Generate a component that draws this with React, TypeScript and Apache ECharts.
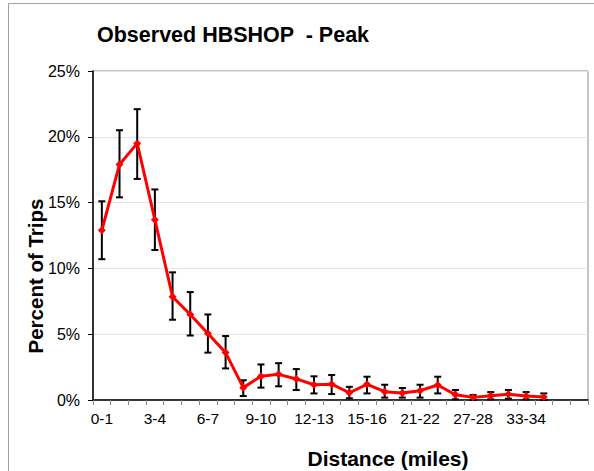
import React, { useEffect, useRef } from "react";
import * as echarts from "echarts";

const categories = [
  "0-1", "1-2", "2-3", "3-4", "4-5", "5-6", "6-7", "7-8", "8-9", "9-10",
  "10-11", "11-12", "12-13", "13-14", "14-15", "15-16", "17-18", "19-20",
  "21-22", "23-24", "25-26", "27-28", "29-30", "31-32", "33-34", "35-36", "", "",
];
const percentValues = [
  12.9, 17.9, 19.5, 13.7, 7.85, 6.5, 5.05, 3.6, 0.94, 1.8,
  1.95, 1.6, 1.16, 1.2, 0.55, 1.19, 0.63, 0.53, 0.71, 1.14,
  0.4, 0.2, 0.33, 0.43, 0.3, 0.23,
];
const errorHigh = [
  15.1, 20.5, 22.1, 16.0, 9.7, 8.2, 6.5, 4.86, 1.5, 2.7,
  2.8, 2.35, 1.8, 1.9, 1.0, 1.77, 1.16, 0.91, 1.16, 1.77,
  0.76, 0.38, 0.6, 0.76, 0.6, 0.5,
];
const errorLow = [
  10.7, 15.4, 16.8, 11.4, 6.1, 4.9, 3.6, 2.4, 0.3, 0.94,
  1.04, 0.76, 0.5, 0.45, 0.13, 0.5, 0.18, 0.18, 0.18, 0.5,
  0.05, 0.0, 0.05, 0.1, 0.05, 0.0,
];
const yTicks = [0, 5, 10, 15, 20, 25];

const FONT = "Liberation Sans, Arial, sans-serif";

export default function App() {
  const ref = useRef<HTMLDivElement>(null);
  useEffect(() => {
    if (!ref.current) return;
    document.body.style.margin = "0";
    const chart = echarts.init(ref.current, null, { renderer: "svg" });
    const errData = percentValues.map((_, i) => [i, errorLow[i], errorHigh[i]]);
    chart.setOption({
      animation: false,
      backgroundColor: "#ffffff",
      textStyle: { fontFamily: FONT },
      grid: {
        left: 93, right: 6, top: 71, bottom: 71,
        show: true, borderColor: "#8c8c8c", borderWidth: 1,
      },
      graphic: [
        {
          type: "rect", z: -1, silent: true,
          shape: { x: 8.5, y: 3.5, width: 620, height: 520 },
          style: { fill: "none", stroke: "#a0a0a0", lineWidth: 1 },
        },
        {
          type: "text", x: 97, y: 35,
          style: {
            text: "Observed HBSHOP  - Peak", fill: "#000",
            font: "bold 21.5px " + FONT,
            align: "left", verticalAlign: "middle",
          },
        },
        {
          type: "text", x: 35, y: 276, rotation: Math.PI / 2,
          style: {
            text: "Percent of Trips", fill: "#000",
            font: "bold 20.5px " + FONT,
            align: "center", verticalAlign: "middle",
          },
        },
        {
          type: "text", x: 388, y: 458,
          style: {
            text: "Distance (miles)", fill: "#000",
            font: "bold 21px " + FONT,
            align: "center", verticalAlign: "middle",
          },
        },
      ],
      xAxis: {
        type: "category",
        data: categories,
        boundaryGap: true,
        axisLine: { lineStyle: { color: "#000", width: 1.5 } },
        axisTick: { show: true, interval: 0, length: 5, lineStyle: { color: "#888" } },
        axisLabel: { interval: 2, color: "#000", fontSize: 15.5, margin: 10 },
        splitLine: { show: false },
      },
      yAxis: {
        type: "value",
        min: 0, max: 25, interval: 5,
        axisLine: { show: true, lineStyle: { color: "#000", width: 1.5 } },
        axisTick: { show: true, length: 5, lineStyle: { color: "#000" } },
        axisLabel: {
          color: "#000", fontSize: 16, margin: 13,
          formatter: (v: number) => (yTicks.includes(v) ? v + "%" : ""),
        },
        splitLine: { show: true, lineStyle: { color: "#e3e3e3", width: 1 } },
      },
      series: [
        {
          type: "custom",
          z: 2,
          data: errData,
          renderItem: (params: any, api: any) => {
            const x = api.value(0);
            const lo = api.coord([x, api.value(1)]);
            const hi = api.coord([x, api.value(2)]);
            const hw = 3.5;
            const style = { stroke: "#000", lineWidth: 2 };
            return {
              type: "group",
              children: [
                { type: "line", shape: { x1: lo[0], y1: lo[1], x2: hi[0], y2: hi[1] }, style },
                { type: "line", shape: { x1: hi[0] - hw, y1: hi[1], x2: hi[0] + hw, y2: hi[1] }, style },
                { type: "line", shape: { x1: lo[0] - hw, y1: lo[1], x2: lo[0] + hw, y2: lo[1] }, style },
              ],
            };
          },
        },
        {
          type: "line",
          z: 3,
          data: percentValues,
          symbol: "diamond",
          symbolSize: 8,
          lineStyle: { color: "#ff0000", width: 3 },
          itemStyle: { color: "#ff0000" },
        },
      ],
    });
    return () => chart.dispose();
  }, []);
  return (
    <div
      ref={ref}
      style={{ position: "absolute", left: 0, top: 0, width: 594, height: 471 }}
    />
  );
}
